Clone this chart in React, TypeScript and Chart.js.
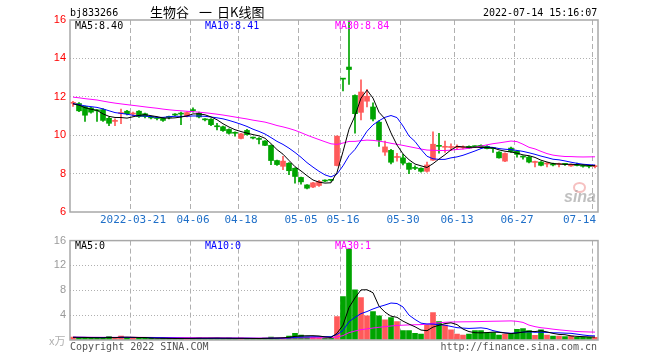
import React, { useEffect, useRef } from 'react';
import { Chart, registerables } from 'chart.js';

Chart.register(...registerables);

// ---------------- DATA ----------------
const dates = [
  '2022-03-07','2022-03-08','2022-03-09','2022-03-10','2022-03-11','2022-03-14','2022-03-15','2022-03-16','2022-03-17','2022-03-18',
  '2022-03-21','2022-03-22','2022-03-23','2022-03-24','2022-03-25','2022-03-28','2022-03-29','2022-03-30','2022-03-31','2022-04-01',
  '2022-04-06','2022-04-07','2022-04-08','2022-04-11','2022-04-12','2022-04-13','2022-04-14','2022-04-15','2022-04-18','2022-04-19',
  '2022-04-20','2022-04-21','2022-04-22','2022-04-25','2022-04-26','2022-04-27','2022-04-28','2022-04-29','2022-05-05','2022-05-06',
  '2022-05-09','2022-05-10','2022-05-11','2022-05-12','2022-05-13','2022-05-16','2022-05-17','2022-05-18','2022-05-19','2022-05-20',
  '2022-05-23','2022-05-24','2022-05-25','2022-05-26','2022-05-27','2022-05-30','2022-05-31','2022-06-01','2022-06-02','2022-06-06',
  '2022-06-07','2022-06-08','2022-06-09','2022-06-10','2022-06-13','2022-06-14','2022-06-15','2022-06-16','2022-06-17','2022-06-20',
  '2022-06-21','2022-06-22','2022-06-23','2022-06-24','2022-06-27','2022-06-28','2022-06-29','2022-06-30','2022-07-01','2022-07-04',
  '2022-07-05','2022-07-06','2022-07-07','2022-07-08','2022-07-11','2022-07-12','2022-07-13','2022-07-14',
];

const opens = [
  11.66, 11.65, 11.50, 11.42, 11.30, 11.33, 10.88, 10.72, 11.13, 11.25,
  11.10, 11.25, 11.12, 10.97, 10.90, 10.88, 10.95, 11.07, 11.13, 11.00,
  11.32, 11.15, 10.82, 10.83, 10.47, 10.44, 10.30, 10.12, 9.83, 10.25,
  9.87, 9.82, 9.70, 9.47, 8.68, 8.38, 8.54, 8.28, 7.80, 7.41,
  7.30, 7.38, 7.63, 7.67, 8.42, 12.93, 13.55, 12.07, 11.19, 11.77,
  11.47, 10.68, 9.12, 9.21, 8.84, 8.82, 8.54, 8.30, 8.28, 8.12,
  8.70, 9.45, 9.37, 9.36, 9.35, 9.34, 9.42, 9.42, 9.47, 9.42,
  9.32, 9.12, 8.65, 9.33, 9.17, 8.88, 8.86, 8.58, 8.60, 8.50,
  8.52, 8.47, 8.50, 8.40, 8.47, 8.44, 8.40, 8.36,
];
const highs = [
  11.77, 11.70, 11.52, 11.45, 11.33, 11.38, 10.95, 10.85, 11.36, 11.30,
  11.20, 11.28, 11.15, 11.00, 10.95, 10.92, 11.00, 11.12, 11.20, 11.22,
  11.42, 11.20, 10.87, 10.87, 10.62, 10.47, 10.33, 10.18, 10.10, 10.30,
  9.90, 9.88, 9.72, 9.50, 8.70, 8.90, 8.58, 8.30, 7.82, 7.43,
  7.55, 7.65, 7.68, 7.70, 9.97, 12.95, 16.30, 12.10, 12.88, 12.39,
  11.68, 10.75, 9.70, 9.26, 9.05, 9.00, 8.56, 8.40, 8.30, 8.60,
  10.18, 10.10, 9.70, 9.55, 9.50, 9.45, 9.45, 9.45, 9.50, 9.46,
  9.36, 9.15, 9.08, 9.38, 9.20, 8.92, 8.90, 8.65, 8.62, 8.58,
  8.55, 8.55, 8.52, 8.50, 8.55, 8.46, 8.42, 8.45,
];
const lows = [
  11.50, 11.22, 10.72, 11.15, 10.72, 10.72, 10.50, 10.50, 10.60, 11.05,
  11.00, 10.92, 10.90, 10.85, 10.80, 10.72, 10.85, 11.00, 10.55, 10.95,
  11.20, 10.90, 10.75, 10.50, 10.27, 10.20, 10.05, 9.95, 9.80, 10.00,
  9.80, 9.55, 9.45, 8.47, 8.42, 8.20, 7.95, 7.50, 7.45, 7.20,
  7.27, 7.33, 7.58, 7.60, 8.40, 12.30, 12.65, 10.10, 10.80, 11.47,
  10.75, 9.42, 8.95, 8.50, 8.65, 8.45, 8.00, 8.20, 8.08, 8.08,
  8.68, 9.07, 9.10, 9.20, 9.25, 9.28, 9.30, 9.35, 9.33, 9.28,
  9.10, 8.80, 8.62, 9.10, 8.85, 8.75, 8.55, 8.35, 8.40, 8.35,
  8.40, 8.35, 8.42, 8.38, 8.40, 8.33, 8.30, 8.30,
];
const closes = [
  11.70, 11.27, 11.04, 11.20, 11.27, 10.77, 10.62, 10.76, 11.18, 11.12,
  11.12, 10.97, 10.97, 10.90, 10.87, 10.77, 10.93, 11.05, 11.10, 11.18,
  11.28, 10.95, 10.80, 10.55, 10.44, 10.24, 10.10, 10.10, 10.07, 10.03,
  9.85, 9.78, 9.47, 8.68, 8.47, 8.65, 8.15, 7.85, 7.57, 7.24,
  7.52, 7.59, 7.61, 7.65, 9.95, 12.92, 13.42, 11.12, 12.25, 12.03,
  10.84, 9.74, 9.39, 8.59, 8.87, 8.54, 8.22, 8.27, 8.12, 8.45,
  9.53, 9.42, 9.40, 9.38, 9.38, 9.37, 9.33, 9.40, 9.36, 9.30,
  9.30, 8.82, 9.05, 9.15, 9.00, 8.86, 8.60, 8.60, 8.43, 8.53,
  8.45, 8.50, 8.48, 8.48, 8.42, 8.38, 8.37, 8.40,
];
// estimated closes of the 29 sessions before the window (moving-average warm-up)
const priorCloses = [
  12.30, 12.40, 12.20, 12.35, 12.50, 12.30, 12.20, 12.40, 12.30, 12.25,
  12.10, 12.20, 12.00, 11.90, 12.10, 12.00, 11.95, 11.80, 11.90, 11.85,
  11.80, 11.70, 11.60, 11.65, 11.55, 11.60, 11.70, 11.60, 11.55,
];

// volume, 万
const volumes = [
  0.45, 0.35, 0.40, 0.30, 0.35, 0.40, 0.55, 0.30, 0.65, 0.40,
  0.30, 0.35, 0.30, 0.25, 0.20, 0.30, 0.25, 0.20, 0.30, 0.25,
  0.30, 0.35, 0.25, 0.30, 0.30, 0.25, 0.30, 0.20, 0.30, 0.25,
  0.20, 0.25, 0.30, 0.45, 0.35, 0.40, 0.65, 1.08, 0.80, 0.50,
  0.45, 0.40, 0.35, 0.40, 3.77, 7.00, 14.65, 8.08, 6.84, 3.88,
  4.58, 3.88, 3.23, 3.60, 2.96, 1.50, 1.50, 1.08, 0.97, 2.42,
  4.41, 2.96, 2.42, 1.62, 0.97, 0.81, 0.97, 1.50, 1.50, 1.18,
  1.18, 0.81, 0.97, 0.97, 1.72, 1.83, 1.50, 0.75, 1.62, 0.81,
  0.65, 0.65, 0.54, 0.65, 0.43, 0.43, 0.43, 0.43,
];
const priorVolumes = [
  0.50, 0.40, 0.55, 0.45, 0.50, 0.60, 0.40, 0.45, 0.50, 0.35,
  0.40, 0.50, 0.45, 0.55, 0.40, 0.35, 0.50, 0.45, 0.40, 0.50,
  0.45, 0.40, 0.50, 0.35, 0.45, 0.40, 0.50, 0.45, 0.40,
];

const xTickDates = ['2022-03-21','2022-04-06','2022-04-18','2022-05-05','2022-05-16','2022-05-30','2022-06-13','2022-06-27','2022-07-14'];
const xTickLabels = ['2022-03-21','04-06','04-18','05-05','05-16','05-30','06-13','06-27','07-14'];
const priceTicks = [6, 8, 10, 12, 14, 16];
const volumeTicks = [0, 4, 8, 12, 16];

const symbolText = 'bj833266';
const titleParts = ['生物谷', '一', '日K线图'];
const timeText = '2022-07-14 15:16:07';
const priceMaTexts = ['MA5:8.40', 'MA10:8.41', 'MA30:8.84'];
const volumeMaTexts = ['MA5:0', 'MA10:0', 'MA30:1'];
const volumeUnit = 'x万';
const footerLeft = 'Copyright 2022 SINA.COM';
const footerRight = 'http://finance.sina.com.cn';

// ---------------- STYLE ----------------
const RED = '#ff5a5a';
const GREEN = '#00a400';
const MA_COLORS = ['#000000', '#0000ff', '#ff00ff'];
const FRAME = '#a8a8a8';
const GRID = '#b0b0b0';
const MONO = '"DejaVu Sans Mono", monospace';

function movingAverage(prior: number[], vals: number[], n: number) {
  const full = prior.concat(vals);
  const off = prior.length;
  return vals.map((_, i) => {
    const end = off + i;
    const start = end - n + 1;
    if (start < 0) return null;
    let s = 0;
    for (let k = start; k <= end; k++) s += full[k];
    return s / n;
  });
}

const tickIdx = xTickDates.map((d) => dates.indexOf(d));

const framePlugin = {
  id: 'frame',
  afterDraw(chart: any) {
    const { ctx, chartArea } = chart;
    ctx.save();
    ctx.strokeStyle = FRAME;
    ctx.lineWidth = 1.5;
    ctx.strokeRect(chartArea.left, chartArea.top, chartArea.right - chartArea.left, chartArea.bottom - chartArea.top);
    ctx.restore();
  },
};

const xLabelPlugin = {
  id: 'xlabels',
  afterDraw(chart: any) {
    const { ctx, chartArea } = chart;
    const x = chart.scales.x;
    ctx.save();
    ctx.font = '11px ' + MONO;
    ctx.fillStyle = '#1f6fc8';
    ctx.textBaseline = 'middle';
    tickIdx.forEach((idx, k) => {
      const px = x.getPixelForValue(idx);
      const text = xTickLabels[k];
      const w = ctx.measureText(text).width;
      let left = px - w / 2;
      if (left + w > chartArea.right - 2) left = chartArea.right - 2 - w;
      ctx.fillText(text, left, chartArea.bottom + 8);
    });
    ctx.restore();
  },
};

function lineDs(data: (number | null)[], color: string) {
  return {
    type: 'line' as const,
    data,
    borderColor: color,
    borderWidth: 1,
    pointRadius: 0,
    tension: 0,
    fill: false,
    order: 0,
  };
}

function xScale() {
  return {
    type: 'category' as const,
    offset: true,
    ticks: { display: false, autoSkip: false },
    grid: {
      offset: true,
      drawTicks: false,
      color: (c: any) => (tickIdx.includes(c.index) ? GRID : 'rgba(0,0,0,0)'),
      lineWidth: 1,
    },
    border: { display: false, dash: [5, 3] },
  };
}

export default function App() {
  const mainRef = useRef<HTMLCanvasElement>(null);
  const volRef = useRef<HTMLCanvasElement>(null);

  useEffect(() => {
    const colors = closes.map((c, i) => (c >= opens[i] ? RED : GREEN));
    const ma5 = movingAverage(priorCloses, closes, 5);
    const ma10 = movingAverage(priorCloses, closes, 10);
    const ma30 = movingAverage(priorCloses, closes, 30);
    const vma5 = movingAverage(priorVolumes, volumes, 5);
    const vma10 = movingAverage(priorVolumes, volumes, 10);
    const vma30 = movingAverage(priorVolumes, volumes, 30);

    const main = new Chart(mainRef.current!, {
      type: 'bar',
      data: {
        labels: dates,
        datasets: [
          lineDs(ma5, MA_COLORS[0]),
          lineDs(ma10, MA_COLORS[1]),
          lineDs(ma30, MA_COLORS[2]),
          {
            type: 'bar',
            data: lows.map((l, i) => [l, highs[i]]),
            backgroundColor: colors,
            barThickness: 1,
            grouped: false,
            order: 2,
          } as any,
          {
            type: 'bar',
            data: opens.map((o, i) => [o, closes[i]]),
            backgroundColor: colors,
            barThickness: 5,
            minBarLength: 1,
            grouped: false,
            order: 1,
          } as any,
        ],
      },
      options: {
        responsive: false,
        animation: false,
        devicePixelRatio: 1,
        events: [],
        layout: { padding: { left: 0, right: 62, top: 20, bottom: 0 } },
        plugins: { legend: { display: false }, tooltip: { enabled: false } },
        scales: {
          x: { ...xScale(), afterFit: (a: any) => { a.height = 18; } } as any,
          y: {
            min: 6,
            max: 16,
            afterBuildTicks: (a: any) => { a.ticks = priceTicks.map((v) => ({ value: v })); },
            afterFit: (a: any) => { a.width = 70; },
            ticks: { color: '#ff0000', font: { family: 'Liberation Sans', size: 11 }, padding: 4 },
            grid: {
              drawTicks: false,
              color: (c: any) => (c.tick && c.tick.value > 6 && c.tick.value < 16 ? GRID : 'rgba(0,0,0,0)'),
            },
            border: { display: false, dash: [1, 2] },
          } as any,
        },
      },
      plugins: [framePlugin, xLabelPlugin],
    });

    const vol = new Chart(volRef.current!, {
      type: 'bar',
      data: {
        labels: dates,
        datasets: [
          lineDs(vma5, MA_COLORS[0]),
          lineDs(vma10, MA_COLORS[1]),
          lineDs(vma30, MA_COLORS[2]),
          {
            type: 'bar',
            data: volumes,
            backgroundColor: colors,
            barThickness: 5,
            order: 1,
          } as any,
        ],
      },
      options: {
        responsive: false,
        animation: false,
        devicePixelRatio: 1,
        events: [],
        layout: { padding: { left: 0, right: 62, top: 10, bottom: 0 } },
        plugins: { legend: { display: false }, tooltip: { enabled: false } },
        scales: {
          x: { ...xScale(), afterFit: (a: any) => { a.height = 20; } } as any,
          y: {
            min: 0,
            max: 16,
            afterBuildTicks: (a: any) => { a.ticks = volumeTicks.map((v) => ({ value: v })); },
            afterFit: (a: any) => { a.width = 70; },
            ticks: {
              color: '#9a9a9a',
              font: { family: 'Liberation Sans', size: 11 },
              padding: 4,
              callback: (v: any) => (Number(v) === 0 ? '' : String(v)),
            },
            grid: {
              drawTicks: false,
              color: (c: any) => (c.tick && c.tick.value > 0 && c.tick.value < 16 ? GRID : 'rgba(0,0,0,0)'),
            },
            border: { display: false, dash: [1, 2] },
          } as any,
        },
      },
      plugins: [framePlugin],
    });

    return () => {
      main.destroy();
      vol.destroy();
    };
  }, []);

  const txt = (s: string, left: number, top: number, color: string, extra: any = {}) => (
    <div style={{ position: 'absolute', left, top, color, font: '10px ' + MONO, lineHeight: '12px', whiteSpace: 'pre', ...extra }}>{s}</div>
  );

  return (
    <div style={{ position: 'absolute', left: 0, top: 0, width: 660, height: 360, background: '#fff', overflow: 'hidden' }}>
      <canvas ref={mainRef} width={660} height={230} style={{ position: 'absolute', left: 0, top: 0, width: 660, height: 230 }} />
      <canvas ref={volRef} width={660} height={130} style={{ position: 'absolute', left: 0, top: 230, width: 660, height: 130 }} />

      {txt(symbolText, 70, 7, '#000')}
      <div style={{ position: 'absolute', left: 150, top: 4, font: '13px "Noto Sans CJK SC"', lineHeight: '16px', color: '#000' }}>{titleParts[0]}</div>
      <div style={{ position: 'absolute', left: 199, top: 4, font: '13px "Noto Sans CJK SC"', lineHeight: '16px', color: '#000' }}>{titleParts[1]}</div>
      <div style={{ position: 'absolute', left: 217, top: 4, font: '13px "Noto Sans CJK SC"', lineHeight: '16px', color: '#000' }}>{titleParts[2]}</div>
      {txt(timeText, 483, 7, '#000', { width: 114, textAlign: 'right' })}

      {txt(priceMaTexts[0], 75, 20, MA_COLORS[0])}
      {txt(priceMaTexts[1], 205, 20, MA_COLORS[1])}
      {txt(priceMaTexts[2], 335, 20, MA_COLORS[2])}

      {txt(volumeMaTexts[0], 75, 240, MA_COLORS[0])}
      {txt(volumeMaTexts[1], 205, 240, MA_COLORS[1])}
      {txt(volumeMaTexts[2], 335, 240, MA_COLORS[2])}

      <div style={{ position: 'absolute', left: 49, top: 333, font: '11px "Noto Sans CJK SC"', lineHeight: '14px', color: '#b0b0b0' }}>{volumeUnit}</div>
      {txt(footerLeft, 70, 341, '#555')}
      {txt(footerRight, 420, 341, '#555', { width: 177, textAlign: 'right' })}

      <div style={{ position: 'absolute', left: 573, top: 182, width: 9, height: 7, borderRadius: '50%', border: '2px solid rgba(240,150,150,0.6)' }} />
      <div style={{ position: 'absolute', left: 564, top: 189, font: 'italic bold 16px "Liberation Sans"', lineHeight: '16px', color: 'rgba(150,150,150,0.6)' }}>sina</div>
    </div>
  );
}
